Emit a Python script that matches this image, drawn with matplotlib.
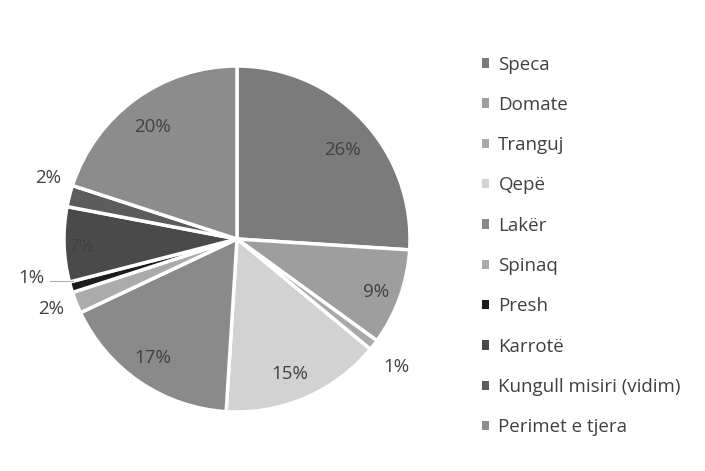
import matplotlib
matplotlib.use("Agg")
import matplotlib.pyplot as plt
import numpy as np

categories = ["Speca", "Domate", "Tranguj", "Qepë", "Lakër", "Spinaq",
              "Presh", "Karrotë", "Kungull misiri (vidim)", "Perimet e tjera"]
values = [26, 9, 1, 15, 17, 2, 1, 7, 2, 20]

colors = ["#7b7b7b", "#9e9e9e", "#a9a9a9", "#d2d2d2", "#8a8a8a",
          "#ababab", "#1c1c1c", "#4a4a4a", "#5c5c5c", "#8c8c8c"]
label_radius = [0.80, 0.86, 1.18, 0.84, 0.84, 1.15, 1.21, 0.90, 1.15, 0.81]
label_angle_offset = [-3, -1, -1, -2, -1, -1, -5.5, 1, -3.5, 1]

plt.rcParams['font.family'] = ['Open Sans', 'DejaVu Sans']
text_color = "#404040"
fs = 13.5

fig = plt.figure(figsize=(7.05, 4.71), dpi=100)
ax = fig.add_axes([64/705, (471-412)/471, 346/705, 346/471])

wedges, _ = ax.pie(values, colors=colors, startangle=90, counterclock=False,
                   wedgeprops=dict(edgecolor="white", linewidth=2.5))
ax.set_xlim(-1, 1)
ax.set_ylim(-1, 1)
ax.set_aspect("equal")
ax.axis("off")

total = sum(values)
cum = 0
for i, v in enumerate(values):
    mid = cum + v / 2
    cum += v
    ang_deg = 90 - 360 * mid / total
    ang = np.deg2rad(ang_deg + label_angle_offset[i])
    r = label_radius[i]
    x, y = r * np.cos(ang), r * np.sin(ang)
    ax.text(x, y, f"{v}%", ha="center", va="center", fontsize=fs,
            color=text_color, clip_on=False)
    if categories[i] == "Presh":
        a0 = np.deg2rad(ang_deg)
        ax.plot([x + 0.11, 0.99 * np.cos(a0)], [y - 0.02, y - 0.02],
                color="#b0b0b0", lw=0.8, clip_on=False)

handles = [plt.Rectangle((0, 0), 1, 1, facecolor=c, edgecolor="none") for c in colors]
leg = fig.legend(handles, categories, loc="upper left",
                 bbox_to_anchor=(474/705, 1 - 48/471), frameon=False,
                 fontsize=fs, handlelength=0.4, handleheight=0.4,
                 handletextpad=0.5, labelspacing=1.19, borderaxespad=0)
for t in leg.get_texts():
    t.set_color(text_color)

fig.savefig("out.png", dpi=100, facecolor="white")
